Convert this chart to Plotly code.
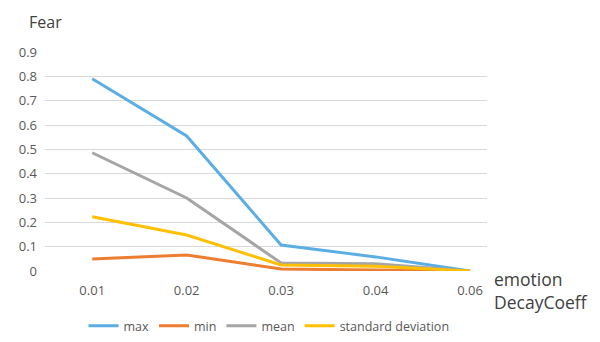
import plotly.graph_objects as go

categories = ["0.01", "0.02", "0.03", "0.04", "0.06"]
max_vals = [0.79, 0.555, 0.107, 0.058, 0.0]
min_vals = [0.049, 0.066, 0.008, 0.005, 0.0]
mean_vals = [0.486, 0.30, 0.033, 0.03, 0.0]
std_vals = [0.223, 0.148, 0.025, 0.02, 0.0]
y_ticks = [0, 0.1, 0.2, 0.3, 0.4, 0.5, 0.6, 0.7, 0.8, 0.9]
y_tick_labels = ["0", "0.1", "0.2", "0.3", "0.4", "0.5", "0.6", "0.7", "0.8", "0.9"]

series = [
    ("max", max_vals, "#5BAEE4"),
    ("min", min_vals, "#ED7D31"),
    ("mean", mean_vals, "#A5A5A5"),
    ("standard deviation", std_vals, "#FFC000"),
]

fig = go.Figure()
for name, vals, color in series:
    fig.add_trace(go.Scatter(
        x=list(range(len(categories))), y=vals, name=name, mode="lines",
        line=dict(color=color, width=3),
    ))

# The page body has an 8px default margin; figure is sized to fit the window.
OFF = 8
W, H = 600 - OFF, 342 - OFF
# desired plot area in page pixels
PL, PR, PT, PB = 45, 487, 52, 271
L = PL - OFF
R = W + OFF - PR
T = PT - OFF
B = H + OFF - PB
pw = PR - PL
ph = PB - PT

fig.update_layout(
    width=W, height=H,
    margin=dict(l=L, r=R, t=T, b=B, autoexpand=False),
    paper_bgcolor="white", plot_bgcolor="white",
    font=dict(family="Open Sans, sans-serif", color="#595959", size=12),
    showlegend=True,
    legend=dict(orientation="h", xref="container", yref="container",
                x=(269 - OFF) / W, xanchor="center", y=(H + OFF - 326) / H, yanchor="middle",
                font=dict(size=12.5, color="#595959"), itemwidth=30, tracegroupgap=0),
    xaxis=dict(
        tickmode="array", tickvals=list(range(len(categories))), ticktext=categories,
        range=[-0.5, 4.18], showgrid=False, zeroline=False, showline=False,
        ticks="", ticklen=0, tickfont=dict(size=13, color="#595959"), automargin=False,
        ticklabelstandoff=10,
    ),
    yaxis=dict(
        range=[0, 0.9], tickmode="array", tickvals=y_ticks, ticktext=y_tick_labels,
        showgrid=True, gridcolor="#D9D9D9", gridwidth=1, zeroline=False, showline=False,
        ticks="", tickfont=dict(size=13, color="#595959"), automargin=False,
        ticklabelstandoff=7,
    ),
    annotations=[
        dict(text="Fear", x=(27 - PL) / pw, y=(PB - 9) / ph, xref="paper", yref="paper",
             xanchor="left", yanchor="top", showarrow=False,
             font=dict(size=16, color="#404040")),
        dict(text="emotion<br>DecayCoeff", x=(492 - PL) / pw, y=(PB - 265) / ph,
             xref="paper", yref="paper",
             xanchor="left", yanchor="top", align="left", showarrow=False,
             font=dict(size=17.5, color="#404040")),
    ],
)

fig.write_html("out.html")
